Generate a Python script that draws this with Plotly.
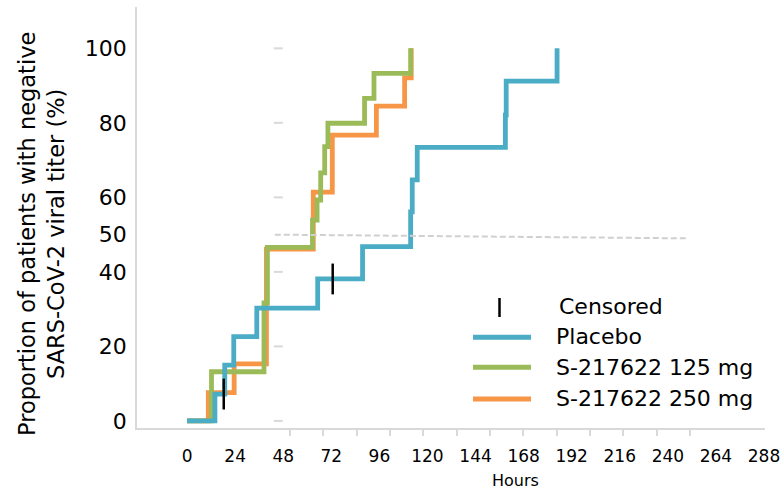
import plotly.graph_objects as go

# ---- data ----
placebo_t = [0, 13.9, 18.8, 23.3, 34.8, 65.2, 87.6, 111.6, 112.4, 114.9, 158.9, 159.3, 184.7]
placebo_v = [0, 7.2, 15.0, 22.6, 30.3, 38.1, 46.8, 56.1, 64.7, 73.4, 82.1, 91.2, 100]

s125_t = [0, 12.2, 38.4, 40.1, 62.6, 64.9, 66.7, 68.7, 70.3, 88.6, 93.3, 111.6]
s125_v = [0, 13.2, 31.7, 46.6, 53.9, 59.3, 66.6, 73.6, 79.9, 86.6, 93.3, 100]

s250_t = [0, 10.6, 23.5, 39.6, 63.0, 72.5, 94.5, 108.6, 111.9]
s250_v = [0, 7.6, 15.3, 46.1, 61.4, 76.7, 84.5, 92.1, 100]

censor_t = [18.3, 72.7]
censor_v = [7.2, 38.1]

x_ticks = list(range(0, 289, 24))
y_ticks = [0, 20, 40, 50, 60, 80, 100]
grid_vals = [0, 20, 40, 60, 80, 100]
minor_ticks = [51.4 + 16.64 * i for i in range(13)]
ref_x = [43.8, 249.7]
ref_y = [50, 49.0]
stub_x = [43.3, 47.8]

BLUE = "#4bacc6"
GREEN = "#9bbb59"
ORANGE = "#f79646"
GRAY = "#d9d9d9"
FONT = "DejaVu Sans"

fig = go.Figure()

# gridline stubs
sx, sy = [], []
for v in grid_vals:
    sx += [stub_x[0], stub_x[1], None]
    sy += [v, v, None]
fig.add_trace(go.Scatter(x=sx, y=sy, mode="lines", line=dict(color=GRAY, width=2),
                         hoverinfo="skip", showlegend=False))
# 50% reference dashed line
fig.add_trace(go.Scatter(x=ref_x, y=ref_y, mode="lines", xaxis="x2",
                         line=dict(color="#d0d0d0", width=2, dash="6px,3px"),
                         hoverinfo="skip", showlegend=False))

fig.add_trace(go.Scatter(x=s250_t, y=s250_v, mode="lines", line_shape="hv",
                         line=dict(color=ORANGE, width=4.8), name="S-217622 250 mg", showlegend=False))
fig.add_trace(go.Scatter(x=s125_t, y=s125_v, mode="lines", line_shape="hv",
                         line=dict(color=GREEN, width=4.8), name="S-217622 125 mg", showlegend=False))
fig.add_trace(go.Scatter(x=placebo_t, y=placebo_v, mode="lines", line_shape="hv",
                         line=dict(color=BLUE, width=4.8), name="Placebo", showlegend=False))
fig.add_trace(go.Scatter(x=censor_t, y=censor_v, mode="markers", name="Censored", showlegend=False,
                         marker=dict(symbol="line-ns", size=22, line=dict(color="black", width=2.5))))

W, H = 780, 490
L, R, T, B = 137, 15, 7, 62
pw, ph = W - L - R, H - T - B

def px(x):
    return (x - L) / pw

def py(y):
    return (H - B - y) / ph

shapes = []
annotations = []
# legend (drawn by hand)
shapes.append(dict(type="line", xref="paper", yref="paper", x0=px(499.5), x1=px(499.5),
                   y0=py(298), y1=py(317), line=dict(color="black", width=2.5)))
annotations.append(dict(text="Censored", xref="paper", yref="paper", x=px(557), y=py(307),
                        xanchor="left", yanchor="middle", showarrow=False,
                        font=dict(family=FONT, size=22, color="black")))
for col, label, yy, ty in [(BLUE, "Placebo", 337.3, 336), (GREEN, "S-217622 125 mg", 367.3, 367),
                           (ORANGE, "S-217622 250 mg", 399, 398)]:
    shapes.append(dict(type="line", xref="paper", yref="paper", x0=px(473), x1=px(531),
                       y0=py(yy), y1=py(yy), line=dict(color=col, width=5)))
    annotations.append(dict(text=label, xref="paper", yref="paper", x=px(554), y=py(ty),
                            xanchor="left", yanchor="middle", showarrow=False,
                            font=dict(family=FONT, size=22, color="black")))

annotations.append(dict(text="Proportion of patients with negative<br>SARS-CoV-2 viral titer (%)",
                        xref="paper", yref="paper", x=px(41), y=py(234), textangle=-90,
                        xanchor="center", yanchor="middle", showarrow=False,
                        font=dict(family=FONT, size=22.5, color="black")))
annotations.append(dict(text="Hours", xref="paper", yref="paper", x=px(515), y=py(480),
                        xanchor="center", yanchor="middle", showarrow=False,
                        font=dict(family=FONT, size=16, color="black")))

xr = [-25, 288.5]
fig.update_layout(
    width=W, height=H,
    margin=dict(l=L, r=R, t=T, b=B, autoexpand=False),
    paper_bgcolor="white", plot_bgcolor="white",
    xaxis=dict(range=xr, tickvals=x_ticks, showgrid=False, zeroline=False, automargin=False,
               showline=True, linecolor=GRAY, linewidth=1.5, ticks="",
               ticklabelstandoff=12, ticklabeloverflow="allow",
               tickfont=dict(family="Liberation Sans Narrow, Arial Narrow, DejaVu Sans", size=17, color="black")),
    xaxis2=dict(range=xr, overlaying="x", anchor="y", side="bottom", tickvals=minor_ticks,
                automargin=False,
                showticklabels=False, ticks="outside", ticklen=7, tickwidth=1.5, tickcolor=GRAY,
                showgrid=False, zeroline=False, showline=False),
    yaxis=dict(range=[-1.9, 111.1], tickvals=y_ticks, showgrid=False, zeroline=False, automargin=False,
               showline=True, linecolor=GRAY, linewidth=1.5, ticks="", ticklabelstandoff=4,
               tickfont=dict(family=FONT, size=22, color="black")),
    shapes=shapes, annotations=annotations, showlegend=False,
)

fig.write_html("out.html", config={"displayModeBar": False},
               post_script="document.body.style.margin='0';document.body.style.overflow='hidden';")
